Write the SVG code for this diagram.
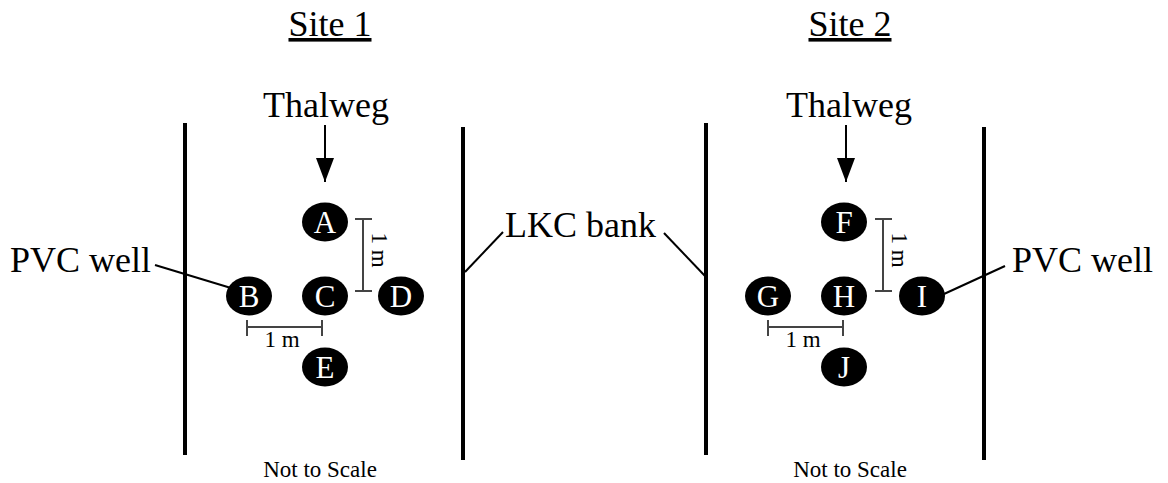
<svg xmlns="http://www.w3.org/2000/svg" width="1168" height="483" viewBox="0 0 1168 483">
<defs>
<style>
text{font-family:"Liberation Serif","Times New Roman",serif;fill:#000}
.title{font-size:36px;text-anchor:middle;text-decoration:underline}
.lbl{font-size:36px}
.node ellipse{fill:#000}
.node text{font-size:31px;fill:#fff;text-anchor:middle}
.bank{stroke:#000;stroke-width:4;fill:none}
.lead{stroke:#000;stroke-width:2;fill:none}
.scale{stroke:#444;stroke-width:2;fill:none}
.st{font-size:23px;text-anchor:middle}
.nts{font-size:23px;text-anchor:middle}
</style>
<marker id="ah" viewBox="0 0 10 10" refX="10" refY="5" markerWidth="24" markerHeight="18" markerUnits="userSpaceOnUse" orient="auto" preserveAspectRatio="none">
<path d="M0,0 L10,5 L0,10 Z" fill="#000"/>
</marker>
</defs>
<rect width="1168" height="483" fill="#fff"/>

<g id="site1-labels">
<text class="title" x="330" y="36">Site 1</text>
<text class="lbl" x="326" y="117" text-anchor="middle">Thalweg</text>
<text class="lbl" x="10" y="272">PVC well</text>
<text class="nts" x="320" y="477">Not to Scale</text>
</g>
<g id="site2-labels">
<text class="title" x="850" y="36">Site 2</text>
<text class="lbl" x="849" y="117" text-anchor="middle">Thalweg</text>
<text class="lbl" x="1012" y="272">PVC well</text>
<text class="nts" x="850" y="477">Not to Scale</text>
</g>
<g id="lkc-label">
<text class="lbl" x="505" y="237">LKC bank</text>
</g>

<g id="banks">
<line class="bank" x1="185" y1="123" x2="185" y2="455"/>
<line class="bank" x1="463" y1="127" x2="463" y2="460"/>
<line class="bank" x1="706" y1="123" x2="706" y2="455"/>
<line class="bank" x1="984" y1="127" x2="984" y2="460"/>
</g>

<g id="connectors">
<line class="lead" x1="325" y1="125" x2="325" y2="182" marker-end="url(#ah)"/>
<line class="lead" x1="846" y1="125" x2="846" y2="182" marker-end="url(#ah)"/>
<line class="lead" x1="155" y1="265" x2="231" y2="288"/>
<line class="lead" x1="503" y1="232" x2="465" y2="272"/>
<line class="lead" x1="664" y1="233" x2="705" y2="276"/>
<line class="lead" x1="1005" y1="266" x2="944" y2="294"/>
</g>

<g id="scales">
<path class="scale" d="M363,219 V291 M355,219 H372 M355,291 H372"/>
<path class="scale" d="M247,327 H322 M247,320 V336 M322,320 V336"/>
<text class="st" transform="translate(372,250) rotate(90)">1 m</text>
<text class="st" x="282" y="347">1 m</text>
<path class="scale" d="M883,219 V291 M875,219 H892 M875,291 H892"/>
<path class="scale" d="M768,327 H843 M768,320 V336 M843,320 V336"/>
<text class="st" transform="translate(892,250) rotate(90)">1 m</text>
<text class="st" x="803" y="347">1 m</text>
</g>

<g id="node-A" class="node"><ellipse cx="325" cy="222" rx="23" ry="19.5"/><text x="325" y="233">A</text></g>
<g id="node-B" class="node"><ellipse cx="249" cy="296" rx="23" ry="19.5"/><text x="249" y="307">B</text></g>
<g id="node-C" class="node"><ellipse cx="325" cy="296" rx="23" ry="19.5"/><text x="325" y="307">C</text></g>
<g id="node-D" class="node"><ellipse cx="401" cy="296" rx="23" ry="19.5"/><text x="401" y="307">D</text></g>
<g id="node-E" class="node"><ellipse cx="325" cy="367" rx="23" ry="19.5"/><text x="325" y="378">E</text></g>
<g id="node-F" class="node"><ellipse cx="844" cy="222" rx="23" ry="19.5"/><text x="844" y="233">F</text></g>
<g id="node-G" class="node"><ellipse cx="768" cy="296" rx="23" ry="19.5"/><text x="768" y="307">G</text></g>
<g id="node-H" class="node"><ellipse cx="844" cy="296" rx="23" ry="19.5"/><text x="844" y="307">H</text></g>
<g id="node-I" class="node"><ellipse cx="922" cy="296" rx="23" ry="19.5"/><text x="922" y="307">I</text></g>
<g id="node-J" class="node"><ellipse cx="844" cy="367" rx="23" ry="19.5"/><text x="844" y="378">J</text></g>
</svg>
